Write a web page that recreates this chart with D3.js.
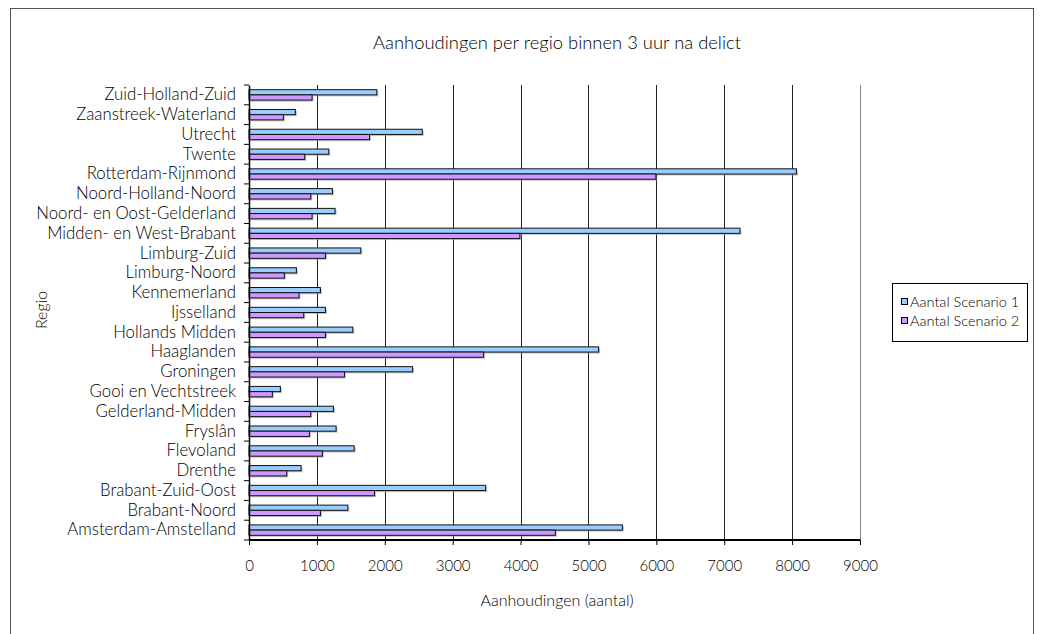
<!DOCTYPE html>
<html>
<head>
<meta charset="utf-8">
<script src="https://cdn.jsdelivr.net/npm/d3@7/dist/d3.min.js"></script>
<style>
  html, body { margin: 0; padding: 0; background: #fff; }
  svg { display: block; }
  text { font-family: "Lato", "Open Sans", sans-serif; font-weight: 300; fill: #000; }
</style>
</head>
<body>
<svg id="chart" width="1044" height="634"></svg>
<script>
// Categories listed bottom to top as in the reference
const regions = [
  "Amsterdam-Amstelland", "Brabant-Noord", "Brabant-Zuid-Oost", "Drenthe",
  "Flevoland", "Fryslân", "Gelderland-Midden", "Gooi en Vechtstreek",
  "Groningen", "Haaglanden", "Hollands Midden", "Ijsselland",
  "Kennemerland", "Limburg-Noord", "Limburg-Zuid", "Midden- en West-Brabant",
  "Noord- en Oost-Gelderland", "Noord-Holland-Noord", "Rotterdam-Rijnmond",
  "Twente", "Utrecht", "Zaanstreek-Waterland", "Zuid-Holland-Zuid"
];
const scenario1 = [
  5500, 1456, 3486, 767,
  1549, 1283, 1244, 462,
  2409, 5150, 1529, 1126,
  1052, 698, 1647, 7232,
  1268, 1229, 8063,
  1175, 2552, 683, 1883
];
const scenario2 = [
  4513, 1052, 1849, 556,
  1081, 890, 910, 344,
  1406, 3456, 1126, 806,
  737, 521, 1126, 3990,
  929, 910, 5993,
  821, 1775, 506, 929
];
const seriesNames = ["Aantal Scenario 1", "Aantal Scenario 2"];
const xTicks = [0, 1000, 2000, 3000, 4000, 5000, 6000, 7000, 8000, 9000];
const titleText = "Aanhoudingen per regio binnen 3 uur na delict";
const xTitle = "Aanhoudingen (aantal)";
const yTitle = "Regio";

const colors = ["#99CCFF", "#CC99FF"];

const svg = d3.select("#chart");
const plot = { left: 249, right: 860, top: 85, bottom: 540 };

// outer border
svg.append("rect")
  .attr("x", 10.5).attr("y", 8.5)
  .attr("width", 1023).attr("height", 640)
  .attr("fill", "none").attr("stroke", "#555").attr("stroke-width", 1);

const x = d3.scaleLinear().domain([0, 9000]).range([plot.left, plot.right]);
const y = d3.scaleBand().domain(regions.slice().reverse()).range([plot.top, plot.bottom]);
const inner = d3.scaleBand().domain([0, 1]).range([0, y.bandwidth()]).paddingOuter(0.9).paddingInner(0);

// gridlines
svg.append("g").selectAll("line").data(xTicks.filter(t => t > 0)).join("line")
  .attr("x1", d => Math.round(x(d)) + 0.5).attr("x2", d => Math.round(x(d)) + 0.5)
  .attr("y1", plot.top).attr("y2", plot.bottom)
  .attr("stroke", d => d === 9000 ? "#888" : "#222").attr("stroke-width", 1);

// bars
const data = [];
regions.forEach((r, i) => {
  data.push({ r, s: 0, v: scenario1[i] });
  data.push({ r, s: 1, v: scenario2[i] });
});
const bars = svg.append("g");
bars.selectAll("rect.sh").data(data).join("rect").attr("class", "sh")
  .attr("x", x(0) + 1.5)
  .attr("y", d => y(d.r) + inner(d.s) + 1.5)
  .attr("width", d => x(d.v) - x(0))
  .attr("height", inner.bandwidth())
  .attr("fill", "#999").attr("opacity", 0.6);
bars.selectAll("rect.b").data(data).join("rect").attr("class", "b")
  .attr("x", x(0))
  .attr("y", d => y(d.r) + inner(d.s))
  .attr("width", d => x(d.v) - x(0))
  .attr("height", inner.bandwidth())
  .attr("fill", d => colors[d.s])
  .attr("stroke", "#111").attr("stroke-width", 1);

// x axis
const xAxis = d3.axisBottom(x).tickValues(xTicks).tickSize(5).tickPadding(15).tickFormat(d3.format("d"));
const gx = svg.append("g").attr("transform", `translate(0,${plot.bottom})`).call(xAxis);
gx.select(".domain").attr("stroke", "#000").attr("stroke-width", 2).attr("d", `M${plot.left},0H${plot.right}`);
gx.selectAll(".tick line").attr("stroke", "#000");
gx.selectAll(".tick text").attr("font-size", 15).attr("font-family", null).attr("fill", "#000");

// y axis
const yAxis = d3.axisLeft(y).tickSize(0).tickPadding(13);
const gy = svg.append("g").attr("transform", `translate(${plot.left},0)`).call(yAxis);
gy.select(".domain").attr("stroke", "#000").attr("stroke-width", 1.5);
gy.selectAll(".tick text").attr("font-size", 16.8).attr("font-family", null).attr("fill", "#000");
const boundaries = d3.range(regions.length + 1).map(i => plot.top + i * y.step());
svg.append("g").selectAll("line").data(boundaries).join("line")
  .attr("x1", plot.left - 5).attr("x2", plot.left)
  .attr("y1", d => d).attr("y2", d => d)
  .attr("stroke", "#000").attr("stroke-width", 1);

// titles
svg.append("text").attr("x", 557).attr("y", 49).attr("text-anchor", "middle")
  .attr("font-size", 18.4).text(titleText);
svg.append("text").attr("x", 557).attr("y", 606).attr("text-anchor", "middle")
  .attr("font-size", 16).text(xTitle);
svg.append("text").attr("transform", "translate(47,310) rotate(-90)").attr("text-anchor", "middle")
  .attr("font-size", 16).text(yTitle);

// legend
const lg = svg.append("g");
lg.append("rect").attr("x", 892.5).attr("y", 283.5).attr("width", 135).attr("height", 58)
  .attr("fill", "#fff").attr("stroke", "#000").attr("stroke-width", 1);
seriesNames.forEach((n, i) => {
  const cy = 302 + i * 19;
  lg.append("rect").attr("x", 901.5).attr("y", cy - 3.5).attr("width", 6).attr("height", 6)
    .attr("fill", colors[i]).attr("stroke", "#000").attr("stroke-width", 1);
  lg.append("text").attr("x", 910).attr("y", cy).attr("dy", "0.35em")
    .attr("font-size", 14.5).text(n);
});
</script>
</body>
</html>
